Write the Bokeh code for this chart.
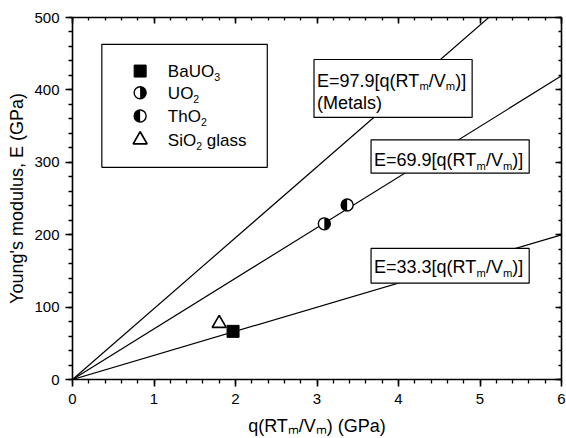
import math
from bokeh.plotting import figure
from bokeh.models import (Range1d, LinearAxis, SingleIntervalTicker,
                          CustomJSTickFormatter)
from bokeh.core.properties import value
from bokeh.embed import file_html
from bokeh.resources import INLINE

# ---------------- data ----------------
materials = ["BaUO3", "UO2", "ThO2", "SiO2 glass"]
q_values = [1.97, 3.09, 3.37, 1.80]        # q(RTm/Vm) in GPa
E_values = [66.5, 215.0, 241.0, 77.5]      # Young's modulus in GPa
marker_kind = ["square", "half_right", "half_left", "triangle"]

fit_slopes = [97.9, 69.9, 33.3]
fit_texts = ["97.9", "69.9", "33.3"]
fit_extra = ["(Metals)", "", ""]

x_start, x_end = 0, 6
y_start, y_end = 0, 500
x_label = "q(RT\u2098/V\u2098) (GPa)"
y_label = "Young's modulus, E (GPa)"

# ---------------- layout ----------------
FONT = "Liberation Sans"
W, H = 566, 438
MB_L, MB_R, MB_T, MB_B = 72, 5, 17, 59
PX_X = (W - MB_L - MB_R) / (x_end - x_start)
PX_Y = (H - MB_T - MB_B) / (y_end - y_start)
TEXT_NUDGE = 5.0   # px, raise rich text to sit on its intended baseline

p = figure(width=W, height=H, output_backend="svg", toolbar_location=None,
           x_range=Range1d(x_start, x_end), y_range=Range1d(y_start, y_end),
           min_border_left=MB_L, min_border_right=MB_R,
           min_border_top=MB_T, min_border_bottom=MB_B,
           x_axis_type=None, y_axis_type=None)
p.outline_line_color = None
p.xgrid.visible = False
p.ygrid.visible = False
p.background_fill_color = "white"
p.border_fill_color = "white"


def style_axis(ax, labels, inward):
    ax.axis_line_color = "black"
    ax.axis_line_width = 1.6
    ax.major_tick_line_color = "black"
    ax.major_tick_line_width = 1.6
    ax.minor_tick_line_color = "black"
    ax.minor_tick_line_width = 1.3
    if inward:
        ax.major_tick_in, ax.major_tick_out = 6, 0
        ax.minor_tick_in, ax.minor_tick_out = 3, 0
    else:
        ax.major_tick_in, ax.major_tick_out = 0, 7
        ax.minor_tick_in, ax.minor_tick_out = 0, 4
    if labels:
        ax.major_label_text_font = FONT
        ax.major_label_text_font_size = "15px"
        ax.major_label_text_color = "black"
        ax.axis_label_text_font = FONT
        ax.axis_label_text_font_size = "18px"
        ax.axis_label_text_font_style = "normal"
        ax.axis_label_text_color = "black"
    else:
        ax.formatter = CustomJSTickFormatter(code="return ''")
        ax.major_label_text_font_size = "0px"
        ax.major_label_standoff = 0


xb = LinearAxis(ticker=SingleIntervalTicker(interval=1, num_minor_ticks=5),
                axis_label=x_label)
style_axis(xb, True, False)
xb.major_label_standoff = 7
xb.axis_label_standoff = 9
p.add_layout(xb, "below")

yl = LinearAxis(ticker=SingleIntervalTicker(interval=100, num_minor_ticks=5),
                axis_label=y_label)
style_axis(yl, True, False)
yl.major_label_standoff = 6
yl.axis_label_standoff = 4
p.add_layout(yl, "left")

xt = LinearAxis(ticker=SingleIntervalTicker(interval=1, num_minor_ticks=5))
style_axis(xt, False, True)
p.add_layout(xt, "above")

yr = LinearAxis(ticker=SingleIntervalTicker(interval=100, num_minor_ticks=5))
style_axis(yr, False, True)
p.add_layout(yr, "right")

# ---------------- text helpers ----------------
CW = {'E': 667, '=': 584, '.': 278, '[': 278, ']': 278, 'q': 556, '(': 333,
      ')': 333, 'R': 722, 'T': 611, 'm': 833, '/': 278, 'V': 667, ' ': 278,
      'G': 778, 'P': 667, 'a': 556, 'M': 833, 'e': 556, 't': 278, 'l': 222,
      's': 500, 'B': 667, 'U': 722, 'O': 778, 'h': 556, 'S': 667, 'i': 222,
      'g': 556}


def tw(s, size):
    return sum(CW.get(c, 556) for c in s) * size / 1000.0


SUB_SCALE = 0.62
SUB_DROP = 5.5


def seg_width(segments, size):
    return sum(tw(t, size * SUB_SCALE if s else size) for t, s in segments)


def add_rich(x0, y0, segments, size):
    cur = 0.0
    base = y0 + TEXT_NUDGE / PX_Y
    for txt, sub in segments:
        fs = size * SUB_SCALE if sub else size
        lead = len(txt) - len(txt.lstrip(" "))
        if lead:
            cur += tw(" " * lead, fs)
            txt = txt.lstrip(" ")
        y = base - (SUB_DROP / PX_Y if sub else 0.0)
        p.text(x=[x0 + cur / PX_X], y=[y], text=[txt],
               text_font=value(FONT), text_font_size=value(f"{fs:.1f}px"),
               text_color="black", text_baseline="alphabetic", text_align="left")
        cur += tw(txt, fs)
    return cur


def chem_segments(name):
    segs = []
    for i, c in enumerate(name):
        sub = c.isdigit() and i > 0 and name[i - 1].isalpha()
        if segs and segs[-1][1] == sub:
            segs[-1] = (segs[-1][0] + c, sub)
        else:
            segs.append((c, sub))
    return segs


# ---------------- fit lines ----------------
for s in fit_slopes:
    p.line(x=[x_start, x_end], y=[x_start * s, x_end * s],
           line_color="black", line_width=1.2)

# ---------------- markers ----------------
R_PX = 6.0


def draw_marker(xs, ys, kind):
    if kind == "square":
        p.scatter(x=xs, y=ys, marker="square", size=12, fill_color="black",
                  line_color="black", line_width=1)
    elif kind == "triangle":
        p.scatter(x=xs, y=ys, marker="triangle", size=14, fill_color="white",
                  line_color="black", line_width=1.7)
    else:
        p.scatter(x=xs, y=ys, marker="circle", size=2 * R_PX, fill_color="white",
                  line_color=None)
        if kind == "half_right":
            a0, a1 = -math.pi / 2, math.pi / 2
        else:
            a0, a1 = math.pi / 2, 3 * math.pi / 2
        p.wedge(x=xs, y=ys, radius=R_PX, radius_units="screen",
                start_angle=a0, end_angle=a1, fill_color="black", line_color=None)
        p.scatter(x=xs, y=ys, marker="circle", size=2 * R_PX, fill_color=None,
                  line_color="black", line_width=1.4)


for q, e, k in zip(q_values, E_values, marker_kind):
    draw_marker([q], [e], k)

# ---------------- legend (manual) ----------------
LEG_BOX = dict(left=0.36, right=2.39, bottom=293, top=463)
LEG_MX = 0.83
LEG_TX = 1.17
LEG_ROW_Y = [426, 396, 364, 331]
LEG_FS = 17

p.quad(left=[LEG_BOX["left"]], right=[LEG_BOX["right"]],
       bottom=[LEG_BOX["bottom"]], top=[LEG_BOX["top"]],
       fill_color="white", line_color="black", line_width=1.2)
for name, k, ry in zip(materials, marker_kind, LEG_ROW_Y):
    draw_marker([LEG_MX], [ry], k)
    add_rich(LEG_TX, ry - 7.5, chem_segments(name), LEG_FS)

# ---------------- equation boxes ----------------
EQ_X = [3.00, 3.70, 3.70]
EQ_BASE = [406, 296, 148]
EQ_BOX_TB = [(442, 362), (331, 285), (181, 133)]
EQ_FS = 18
EQ_LINE = 22 / PX_Y

for slope_txt, extra, ex, eb, (bt, bb) in zip(fit_texts, fit_extra, EQ_X, EQ_BASE, EQ_BOX_TB):
    segs = [("E=" + slope_txt + "[q(RT", False), ("m", True), ("/V", False),
            ("m", True), (")]", False)]
    wpx = seg_width(segs, EQ_FS)
    p.quad(left=[ex - 3 / PX_X], right=[ex + (wpx + 6) / PX_X],
           bottom=[bb], top=[bt], fill_color="white",
           line_color="black", line_width=1.2)
    add_rich(ex, eb, segs, EQ_FS)
    if extra:
        add_rich(ex, eb - EQ_LINE, [(extra, False)], EQ_FS)

open("out.html", "w").write(file_html(p, INLINE))
